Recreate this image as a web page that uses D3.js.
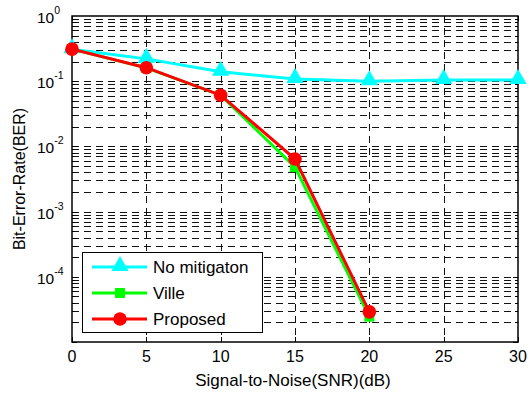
<!DOCTYPE html>
<html>
<head>
<meta charset="utf-8">
<script src="https://cdn.jsdelivr.net/npm/d3@7"></script>
<style>
  body { margin: 0; background: #fff; }
  svg { font-family: "Liberation Sans", Arial, sans-serif; }
</style>
</head>
<body>
<figure id="chart" style="margin:0"></figure>
<script>
// chart data
const snr = [0, 5, 10, 15, 20, 25, 30];
const noMitigation = [0.31, 0.22, 0.14, 0.108, 0.100, 0.104, 0.104];
const ville = [0.31, 0.16, 0.061, 0.0048, 0.0000245];
const proposed = [0.31, 0.161, 0.061, 0.0064, 0.000029];
const xTicks = [0, 5, 10, 15, 20, 25, 30];
const yExponents = [0, -1, -2, -3, -4];

const width = 528, height = 396;
const plotLeft = 72, plotRight = 518, plotTop = 16, plotBottom = 342;

const svg = d3.select("#chart")
  .append("svg")
    .attr("width", width)
    .attr("height", height);

const x = d3.scaleLinear().domain([0, 30]).range([plotLeft, plotRight]);
const y = d3.scaleLog().domain([1e-5, 1]).range([plotBottom, plotTop]);

// grid lines (major + minor log)
const minorVals = [];
for (let e = -5; e < 0; e++) {
  for (let m = 1; m <= 9; m++) minorVals.push(m * Math.pow(10, e));
}

const grid = svg.append("g")
  .attr("stroke", "#111")
  .attr("stroke-width", 1)
  .attr("shape-rendering", "crispEdges")
  .attr("stroke-dasharray", "7,5");

grid.selectAll("line.h")
  .data(minorVals.filter(v => v > 1e-5))
  .enter()
  .append("line")
    .attr("x1", plotLeft).attr("x2", plotRight)
    .attr("y1", d => Math.round(y(d)) + 0.5)
    .attr("y2", d => Math.round(y(d)) + 0.5);

grid.selectAll("line.v")
  .data(xTicks.slice(1, -1))
  .enter()
  .append("line")
    .attr("x1", d => Math.round(x(d)) + 0.5)
    .attr("x2", d => Math.round(x(d)) + 0.5)
    .attr("y1", plotTop).attr("y2", plotBottom);

// ticks on all four sides
const ticks = svg.append("g").attr("stroke", "#000").attr("stroke-width", 1);
minorVals.forEach(v => {
  const major = Math.abs(Math.log10(v) - Math.round(Math.log10(v))) < 1e-9;
  const len = major ? 5 : 3;
  const yy = Math.round(y(v)) + 0.5;
  ticks.append("line").attr("x1", plotLeft).attr("x2", plotLeft + len).attr("y1", yy).attr("y2", yy);
  ticks.append("line").attr("x1", plotRight).attr("x2", plotRight - len).attr("y1", yy).attr("y2", yy);
});
xTicks.forEach(t => {
  const xx = Math.round(x(t)) + 0.5;
  ticks.append("line").attr("x1", xx).attr("x2", xx).attr("y1", plotBottom).attr("y2", plotBottom - 5);
  ticks.append("line").attr("x1", xx).attr("x2", xx).attr("y1", plotTop).attr("y2", plotTop + 5);
});

// axes box
svg.append("rect")
  .attr("x", plotLeft).attr("y", plotTop)
  .attr("width", plotRight - plotLeft).attr("height", plotBottom - plotTop)
  .attr("fill", "none")
  .attr("stroke", "#000")
  .attr("stroke-width", 1.5);

// x tick labels
svg.selectAll("text.xt")
  .data(xTicks)
  .enter()
  .append("text")
    .attr("x", d => x(d))
    .attr("y", 362)
    .attr("text-anchor", "middle")
    .attr("font-size", 16)
    .text(d => d);

// y tick labels 10^n
yExponents.forEach(e => {
  const t = svg.append("text")
    .attr("x", 37)
    .attr("y", y(Math.pow(10, e)) + 7)
    .attr("font-size", 15.5);
  t.append("tspan").text("10");
  t.append("tspan").attr("dy", -9).attr("font-size", 10.5).text(e);
});

// axis titles
svg.append("text")
  .attr("x", 293)
  .attr("y", 386)
  .attr("text-anchor", "middle")
  .attr("font-size", 17)
  .text("Signal-to-Noise(SNR)(dB)");

svg.append("text")
  .attr("transform", "translate(25,179) rotate(-90)")
  .attr("text-anchor", "middle")
  .attr("font-size", 16)
  .text("Bit-Error-Rate(BER)");

// series
const series = [
  { name: "No mitigaton", values: noMitigation, color: "#00ffff", marker: d3.symbolTriangle, size: 130 },
  { name: "Ville", values: ville, color: "#00ff00", marker: d3.symbolSquare, size: 100 },
  { name: "Proposed", values: proposed, color: "#ff0000", marker: d3.symbolCircle, size: 145 }
];

const line = d3.line()
  .x((d, i) => x(snr[i]))
  .y(d => y(d));

series.forEach(s => {
  svg.append("path")
    .datum(s.values)
    .attr("fill", "none")
    .attr("stroke", s.color)
    .attr("stroke-width", 3)
    .attr("d", line);
  svg.selectAll(null)
    .data(s.values)
    .enter()
    .append("path")
      .attr("transform", (d, i) => "translate(" + x(snr[i]) + "," + (y(d) + (s.marker === d3.symbolTriangle ? -1 : 0)) + ")")
      .attr("d", d3.symbol().type(s.marker).size(s.size))
      .attr("fill", s.color);
});

// legend
const legend = svg.append("g");
legend.append("rect")
  .attr("x", 82.5).attr("y", 252.5)
  .attr("width", 180).attr("height", 80)
  .attr("fill", "#fff")
  .attr("stroke", "#000")
  .attr("stroke-width", 1);

series.forEach((s, i) => {
  const ly = 267 + i * 26;
  legend.append("line")
    .attr("x1", 92).attr("x2", 147)
    .attr("y1", ly).attr("y2", ly)
    .attr("stroke", s.color)
    .attr("stroke-width", 3);
  legend.append("path")
    .attr("transform", "translate(120," + (ly + (s.marker === d3.symbolTriangle ? -1 : 0)) + ")")
    .attr("d", d3.symbol().type(s.marker).size(s.size))
    .attr("fill", s.color);
  legend.append("text")
    .attr("x", 153)
    .attr("y", ly + 6)
    .attr("font-size", 17)
    .text(s.name);
});
</script>
</body>
</html>
